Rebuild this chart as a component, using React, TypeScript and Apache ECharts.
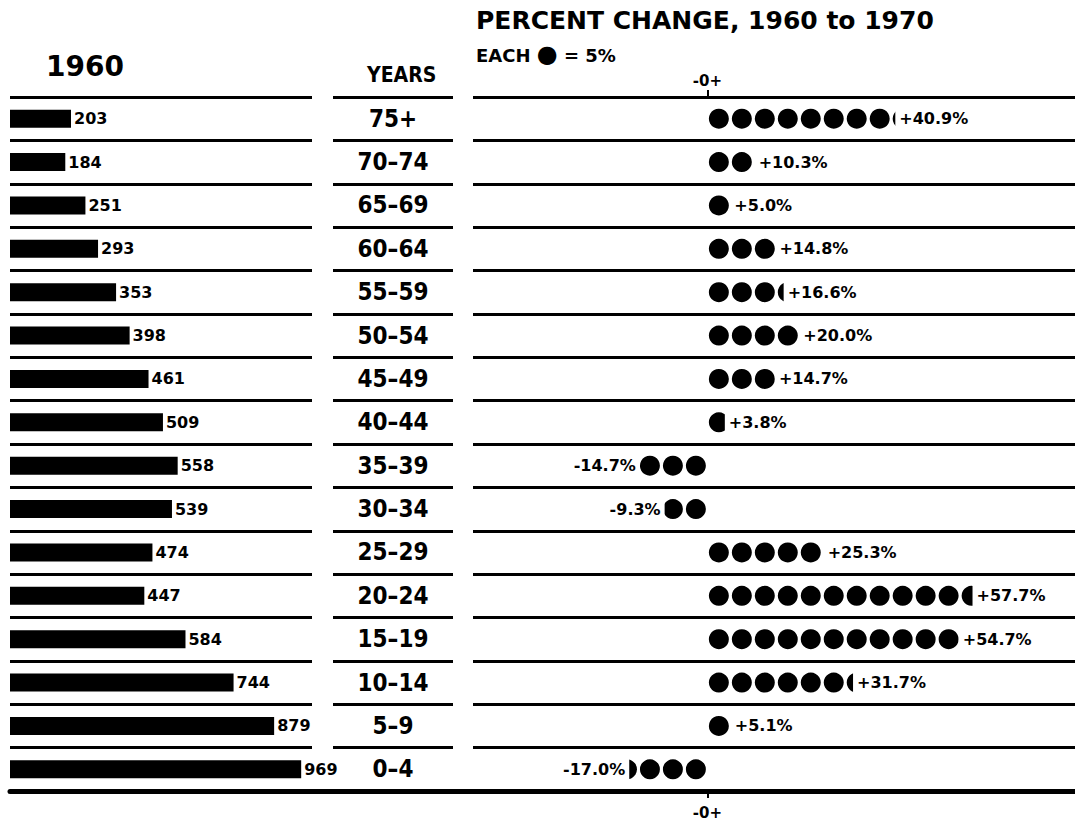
import React, { useEffect, useRef } from "react";
import * as echarts from "echarts";

// ---- data ----
const ageGroups = ["75+", "70–74", "65–69", "60–64", "55–59", "50–54", "45–49", "40–44", "35–39", "30–34", "25–29", "20–24", "15–19", "10–14", "5–9", "0–4"];
const pop1960 = [203, 184, 251, 293, 353, 398, 461, 509, 558, 539, 474, 447, 584, 744, 879, 969];
const pctChange = [40.9, 10.3, 5.0, 14.8, 16.6, 20.0, 14.7, 3.8, -14.7, -9.3, 25.3, 57.7, 54.7, 31.7, 5.1, -17.0];
const leftHeader = "1960";
const midHeader = "YEARS";
const rightTitle = "PERCENT CHANGE, 1960 to 1970";
const zeroLabel = "-0+";
const dotBounds = [-20, 60]; // each dot = 5%

const ROW_TOP = 97;
const ROW_H = 694;
const SANS = '"DejaVu Sans", "Liberation Sans", Arial, sans-serif';
const NARROW = '"Liberation Sans Narrow", "DejaVu Sans Condensed", "Liberation Sans", sans-serif';
const LINE = { color: "#000", width: 3 };

const pctLabel = (v: number) => (v > 0 ? "+" : "") + v.toFixed(1) + "%";

export default function App() {
  const ref = useRef<HTMLDivElement>(null);
  useEffect(() => {
    if (!ref.current) return;
    const chart = echarts.init(ref.current, null, { renderer: "svg" });
    const catAxisBase = {
      type: "category" as const,
      data: ageGroups,
      inverse: true,
      axisLine: { show: false },
      axisTick: { show: false },
      splitLine: { show: true, lineStyle: LINE },
    };
    const zeroAxis = (position: "top" | "bottom", margin: number) => ({
      gridIndex: 2, type: "value" as const, min: -51, max: 80, position,
      axisLine: { show: false }, splitLine: { show: false },
      axisTick: { show: true, customValues: [0], length: 7, lineStyle: { color: "#000", width: 2 } },
      axisLabel: { show: true, customValues: [0], formatter: () => zeroLabel, margin, color: "#000", fontFamily: SANS, fontWeight: "bold", fontSize: 15 },
    });
    chart.setOption({
      animation: false,
      backgroundColor: "#fff",
      grid: [
        { left: 10, width: 302, top: ROW_TOP, height: ROW_H },
        { left: 333, width: 120, top: ROW_TOP, height: ROW_H },
        { left: 473, right: 0, top: ROW_TOP, height: ROW_H },
        { left: 10, right: 0, top: ROW_TOP, height: ROW_H },
      ],
      xAxis: [
        { gridIndex: 0, type: "value", min: 0, max: 1005, show: false },
        { gridIndex: 1, type: "value", min: 0, max: 1, show: false },
        zeroAxis("top", 9),
        zeroAxis("bottom", 14),
        {
          gridIndex: 3, type: "value", min: 0, max: 1,
          axisLine: { show: true, lineStyle: { color: "#000", width: 5 } },
          axisTick: { show: false }, axisLabel: { show: false }, splitLine: { show: false },
        },
      ],
      yAxis: [
        { ...catAxisBase, gridIndex: 0, axisLabel: { show: false } },
        {
          ...catAxisBase, gridIndex: 1,
          axisLabel: { show: true, align: "center", margin: -60, color: "#000", fontFamily: NARROW, fontWeight: "bold", fontSize: 24 },
        },
        { ...catAxisBase, gridIndex: 2, axisLabel: { show: false } },
        { gridIndex: 3, type: "value", min: 0, max: 1, show: false },
      ],
      series: [
        {
          type: "bar", xAxisIndex: 0, yAxisIndex: 0, data: pop1960, barWidth: 18,
          itemStyle: { color: "#000" },
          label: { show: true, position: "right", distance: 3, color: "#000", fontFamily: SANS, fontWeight: "bold", fontSize: 16 },
        },
        {
          type: "pictorialBar", xAxisIndex: 2, yAxisIndex: 2,
          symbol: "circle", symbolSize: [20, 20], symbolRepeat: true, symbolClip: true,
          symbolMargin: "1.5!", symbolBoundingData: dotBounds, symbolPosition: "start",
          itemStyle: { color: "#000" },
          data: pctChange,
        },
        {
          type: "bar", xAxisIndex: 2, yAxisIndex: 2, barWidth: 20,
          itemStyle: { color: "rgba(0,0,0,0)" },
          silent: true,
          data: pctChange.map((v) => ({
            value: v,
            label: {
              show: true,
              position: v >= 0 ? "right" : "left",
              distance: 4,
              formatter: pctLabel(v),
              color: "#000", fontFamily: SANS, fontWeight: "bold", fontSize: 16,
            },
          })),
        },
      ],
      graphic: [
        { type: "text", left: 46, top: 52, style: { text: leftHeader, fill: "#000", font: `bold 28px ${SANS}` } },
        { type: "text", left: 367, top: 64, style: { text: midHeader, fill: "#000", font: `bold 21px ${NARROW}` } },
        { type: "text", left: 476, top: 8, style: { text: rightTitle, fill: "#000", font: `bold 25px ${SANS}` } },
        {
          type: "text", left: 476, top: 42,
          style: {
            text: "EACH {d|●} = 5%",
            fill: "#000", font: `bold 18px ${SANS}`,
            rich: { d: { fontSize: 24, fontFamily: SANS, fill: "#000", padding: [0, 0, 2, 0] } },
          },
        },
      ],
    });
    return () => chart.dispose();
  }, []);
  return <div ref={ref} style={{ position: "fixed", left: 0, top: 0, width: 1075, height: 834 }} />;
}
